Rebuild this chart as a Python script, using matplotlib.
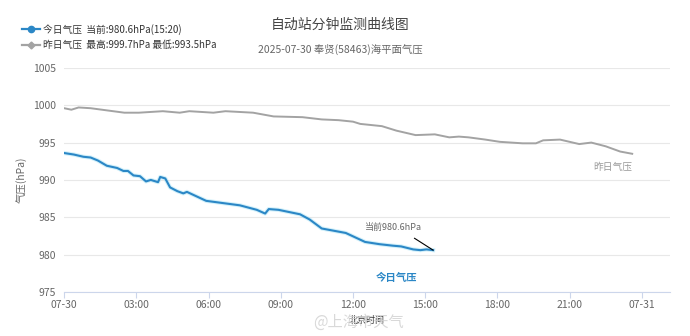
import matplotlib
matplotlib.use("Agg")
import matplotlib.pyplot as plt
from matplotlib.lines import Line2D

plt.rcParams["font.family"] = ["Noto Sans CJK SC", "DejaVu Sans"]

# hours since 07-30 00:00 and pressure (hPa)
today_h = [0.0, 0.4, 0.8, 1.1, 1.4, 1.77, 2.2, 2.46, 2.65, 2.88, 3.15, 3.4, 3.6,
           3.9, 3.99, 4.2, 4.4, 4.7, 4.95, 5.1, 5.5, 5.9, 6.6, 7.3, 8.0, 8.35,
           8.5, 8.9, 9.35, 9.8, 10.2, 10.7, 11.2, 11.7, 12.1, 12.5, 13.1, 13.65,
           14.0, 14.5, 14.8, 15.05, 15.33]
today_p = [993.6, 993.4, 993.1, 993.0, 992.6, 991.9, 991.6, 991.2, 991.2, 990.6,
           990.5, 989.8, 990.0, 989.7, 990.4, 990.2, 989.0, 988.5, 988.2, 988.4,
           987.8, 987.2, 986.9, 986.6, 986.0, 985.5, 986.1, 986.0, 985.7, 985.4,
           984.7, 983.5, 983.2, 982.9, 982.3, 981.7, 981.4, 981.2, 981.1, 980.7,
           980.6, 980.7, 980.6]

yest_h = [0.0, 0.3, 0.6, 1.1, 1.8, 2.5, 3.1, 4.1, 4.8, 5.2, 6.2, 6.7, 7.85, 8.7,
          9.9, 10.7, 11.4, 12.0, 12.3, 13.2, 13.8, 14.6, 15.4, 16.0, 16.4, 16.8,
          17.5, 18.1, 19.05, 19.6, 19.9, 20.6, 21.0, 21.4, 21.9, 22.5, 23.1, 23.6]
yest_p = [999.6, 999.4, 999.7, 999.6, 999.3, 999.0, 999.0, 999.2, 999.0, 999.2,
          999.0, 999.2, 999.0, 998.5, 998.4, 998.1, 998.0, 997.8, 997.5, 997.2,
          996.6, 996.0, 996.1, 995.7, 995.8, 995.7, 995.4, 995.1, 994.9, 994.9,
          995.3, 995.4, 995.1, 994.8, 995.0, 994.5, 993.8, 993.5]

xticks = [0, 3, 6, 9, 12, 15, 18, 21, 24]
xlabels = ["07-30", "03:00", "06:00", "09:00", "12:00", "15:00", "18:00", "21:00", "07-31"]
yticks = [975, 980, 985, 990, 995, 1000, 1005]

C_TODAY = "#2b87c6"
C_YEST = "#a3a3a3"
C_TEXT = "#666666"

fig = plt.figure(figsize=(6.9, 3.36), dpi=100)
ax = fig.add_axes([0.093, 0.131, 0.878, 0.667])

ax.plot(today_h, today_p, color="#9fe0f5", lw=3.0, alpha=0.45, solid_joinstyle="round")
ax.plot(today_h, today_p, color=C_TODAY, lw=1.5, solid_joinstyle="round")
ax.plot(yest_h, yest_p, color=C_YEST, lw=1.4, solid_joinstyle="round")

ax.set_xlim(0, 25.17)
ax.set_ylim(975, 1005)
ax.set_xticks(xticks)
ax.set_xticklabels(xlabels, fontsize=7.5, color=C_TEXT)
ax.set_yticks(yticks)
ax.set_yticklabels([str(v) for v in yticks], fontsize=7.5, color=C_TEXT)
ax.tick_params(axis="x", length=4, color="#ccd6eb", pad=2)
ax.tick_params(axis="y", length=0, pad=6)
ax.grid(axis="y", color="#e8e8e8", lw=0.8)
ax.set_axisbelow(True)
for s in ["top", "right", "left"]:
    ax.spines[s].set_visible(False)
ax.spines["bottom"].set_color("#ccd6eb")
ax.set_ylabel("气压(hPa)", fontsize=7.5, color=C_TEXT, labelpad=4)
ax.set_xlabel("北京时间", fontsize=6.5, color="#333333", labelpad=4)

# series labels and current value annotation
ax.text(13.8, 976.9, "今日气压", fontsize=7.5, color=C_TODAY, ha="center", va="center",
        fontweight="bold")
ax.text(22.8, 993.4 - 1.6, "昨日气压", fontsize=7, color="#999999", ha="center", va="center")
ax.text(13.7, 983.6, "当前980.6hPa", fontsize=6.5, color=C_TEXT, ha="center", va="center")
ax.annotate("", xy=(today_h[-1], today_p[-1]), xytext=(14.55, 982.2),
            arrowprops=dict(arrowstyle="-", color="black", lw=0.8, shrinkA=0, shrinkB=0))

# titles
fig.text(0.493, 0.925, "自动站分钟监测曲线图", fontsize=10, color="#444444", ha="center", va="center")
fig.text(0.493, 0.852, "2025-07-30 奉贤(58463)海平面气压", fontsize=7.5, color=C_TEXT,
         ha="center", va="center")

# legend block
fig.add_artist(Line2D([0.032, 0.058], [0.913, 0.913], color=C_TODAY, lw=1.6,
                      transform=fig.transFigure))
fig.add_artist(Line2D([0.045], [0.913], color=C_TODAY, marker="o", ms=4.5,
                      transform=fig.transFigure))
fig.add_artist(Line2D([0.032, 0.058], [0.866, 0.866], color=C_YEST, lw=1.6,
                      transform=fig.transFigure))
fig.add_artist(Line2D([0.045], [0.866], color=C_YEST, marker="D", ms=3.5,
                      transform=fig.transFigure))
fig.text(0.062, 0.913, "今日气压  当前:980.6hPa(15:20)", fontsize=7, color="#333333",
         va="center")
fig.text(0.062, 0.866, "昨日气压  最高:999.7hPa 最低:993.5hPa", fontsize=7, color="#333333",
         va="center")

# watermark
fig.text(0.52, 0.04, "@上海市天气", fontsize=11, color="#d0d0d0", ha="center", va="center",
         alpha=0.8)

fig.savefig("out.png", dpi=100)
